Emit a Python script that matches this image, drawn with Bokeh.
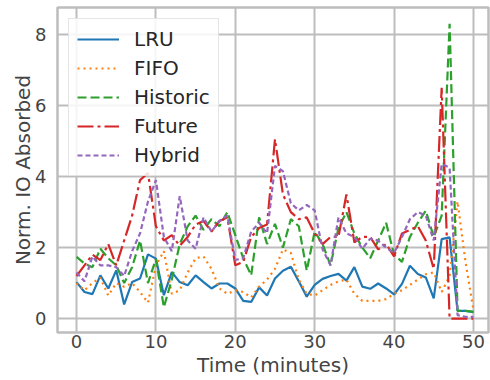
from bokeh.plotting import figure
from bokeh.models import Range1d, FixedTicker, Legend, LegendItem
from bokeh.embed import file_html
from bokeh.resources import INLINE

time_min = list(range(0, 51))
lru = [1.03,0.75,0.69,1.22,0.85,1.36,0.40,1.03,1.13,1.81,
       1.69,0.66,1.31,1.03,0.94,1.22,1.03,0.85,0.99,0.99,
       0.85,0.50,0.47,0.88,0.65,1.13,1.35,1.46,1.05,0.62,
       0.95,1.12,1.20,1.26,1.07,1.45,0.90,0.84,0.99,0.85,
       0.68,0.98,1.49,1.26,1.16,0.57,2.24,2.29,0.22,0.22,0.18]
fifo = [1.0,0.8,1.0,1.15,0.65,1.0,0.9,1.0,0.75,0.45,
        1.5,1.9,0.7,0.8,1.3,1.7,1.75,1.4,0.85,0.7,
        0.8,0.75,0.6,0.9,1.1,1.4,1.95,1.85,1.1,0.7,
        0.65,0.8,0.95,1.05,1.1,0.7,0.5,0.5,0.5,0.55,
        0.7,0.8,0.95,1.1,1.25,1.3,0.75,1.2,3.3,1.6,0.25]
historic = [1.74,1.55,1.45,1.97,1.7,1.5,1.0,1.45,2.2,1.0,
            1.68,0.32,1.1,2.1,2.6,2.9,2.5,2.8,2.6,3.0,
            2.35,1.7,1.22,2.85,2.1,2.67,2.0,2.8,2.6,1.35,
            2.45,2.1,1.5,2.55,3.0,2.4,2.0,1.7,2.2,2.7,
            1.8,1.6,2.3,2.7,3.04,2.3,2.9,8.3,0.22,0.22,0.2]
future = [1.2,1.5,1.8,1.65,2.1,1.5,2.2,2.9,3.9,4.1,
          2.6,2.2,2.35,2.05,2.3,2.65,2.75,2.45,2.75,2.85,
          1.5,1.6,2.3,2.55,2.65,5.05,3.5,3.0,2.8,2.85,
          2.4,2.1,2.3,2.3,3.5,2.15,2.3,2.3,1.95,2.1,
          1.75,2.4,2.5,2.6,2.2,1.4,6.5,0.0,0.0,0.0,0.0]
hybrid = [1.3,1.05,1.75,1.5,1.5,1.45,1.2,1.9,2.4,3.3,
          3.9,2.3,1.9,3.45,2.2,1.97,2.85,2.45,2.75,2.9,
          1.65,1.7,2.45,2.7,2.4,4.3,4.15,3.25,3.05,3.2,
          3.05,1.95,1.5,2.85,2.4,2.3,1.97,2.25,2.2,2.0,
          1.85,2.3,2.8,3.0,2.9,2.2,4.35,4.25,0.1,0.05,0.05]

series_names = ["LRU", "FIFO", "Historic", "Future", "Hybrid"]
series_values = [lru, fifo, historic, future, hybrid]
colors = ["#1f77b4", "#ff7f0e", "#2ca02c", "#d62728", "#9467bd"]
dashes = ["solid", "2 4", "9 4", "16 4 3 4", "5 3"]
x_ticks = [0, 10, 20, 30, 40, 50]
y_ticks = [0, 2, 4, 6, 8]
x_title = "Time (minutes)"
y_title = "Norm. IO Absorbed"

FONT = "DejaVu Sans"
GRID = "#bdbdbd"
TXT = "#444444"

p = figure(width=490, height=380, output_backend="svg", toolbar_location=None,
           x_range=Range1d(-2.4, 51.9), y_range=Range1d(-0.39, 8.76),
           min_border_left=57, min_border_right=2, min_border_top=7,
           min_border_bottom=48)
p.background_fill_color = "white"
p.border_fill_color = "white"
p.outline_line_color = GRID
p.outline_line_width = 2.5

items = []
for name, vals, c, d in zip(series_names, series_values, colors, dashes):
    r = p.line(time_min, vals, line_color=c, line_width=2.2, line_dash=d)
    items.append(LegendItem(label=name, renderers=[r]))

for ax in (p.xaxis, p.yaxis):
    ax.axis_line_color = None
    ax.major_tick_line_color = None
    ax.minor_tick_line_color = None
    ax.major_tick_out = 0
    ax.major_tick_in = 0
    ax.minor_tick_out = 0
    ax.minor_tick_in = 0
    ax.major_label_text_font = FONT
    ax.major_label_text_font_size = "18px"
    ax.major_label_text_color = TXT
    ax.axis_label_text_font = FONT
    ax.axis_label_text_font_size = "20px"
    ax.axis_label_text_font_style = "normal"
    ax.axis_label_text_color = TXT

p.xaxis.ticker = FixedTicker(ticks=x_ticks)
p.yaxis.ticker = FixedTicker(ticks=y_ticks)
p.xaxis.axis_label = x_title
p.yaxis.axis_label = y_title
p.xaxis.major_label_standoff = 2
p.xaxis.axis_label_standoff = 2
p.yaxis.major_label_standoff = 11
p.yaxis.axis_label_standoff = -3

p.xgrid.ticker = FixedTicker(ticks=x_ticks)
p.ygrid.ticker = FixedTicker(ticks=y_ticks)
for g in (p.xgrid, p.ygrid):
    g.grid_line_color = GRID
    g.grid_line_width = 2

legend = Legend(items=items, location="top_left")
legend.margin = 11
legend.padding = 8
legend.spacing = 5
legend.glyph_width = 42
legend.glyph_height = 22
legend.label_standoff = 15
legend.label_text_font = FONT
legend.label_text_font_size = "20px"
legend.label_text_color = "#262626"
legend.label_height = 22
legend.border_line_color = "#cccccc"
legend.border_line_width = 1
legend.background_fill_color = "white"
legend.background_fill_alpha = 0.85
p.add_layout(legend)

open("out.html", "w").write(file_html(p, INLINE))
